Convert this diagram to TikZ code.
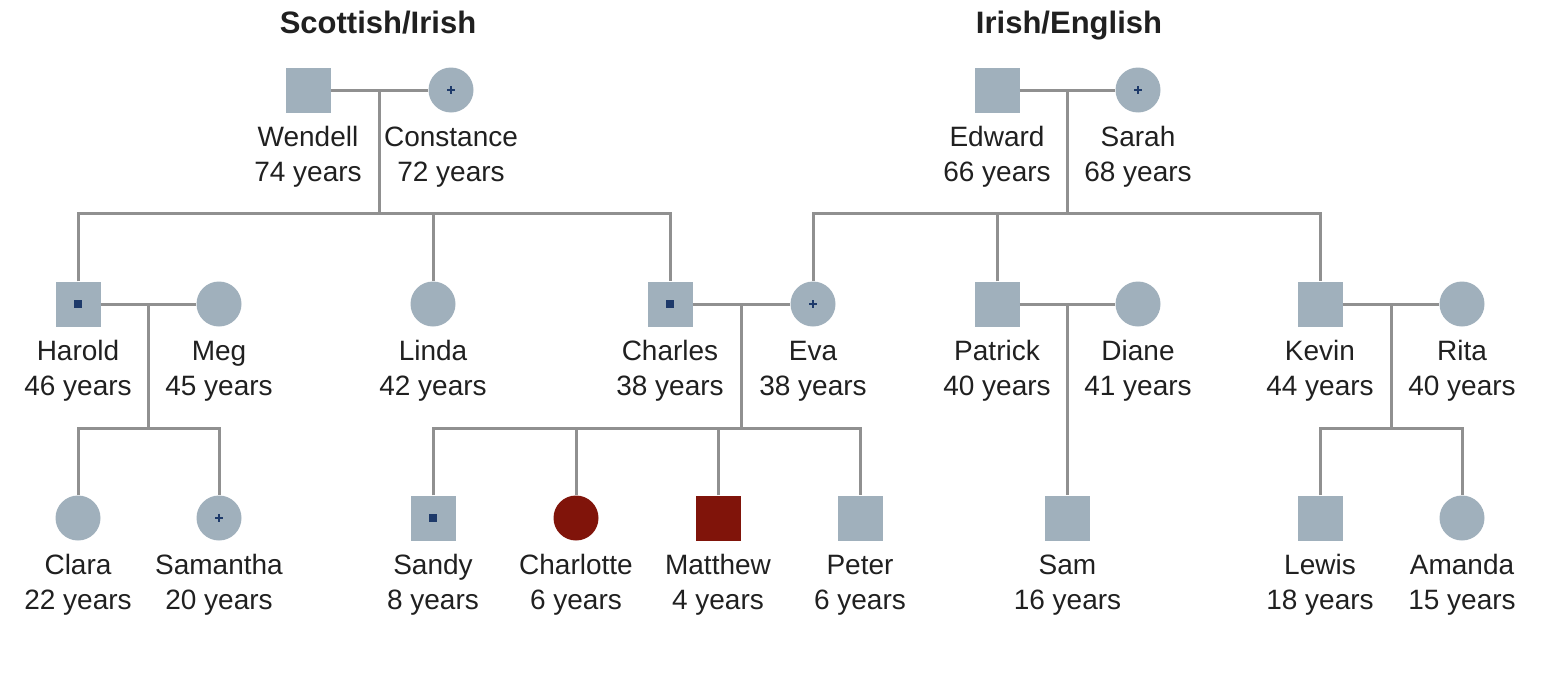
\documentclass[tikz,border=0pt]{standalone}
\usepackage{fontspec}
\setmainfont{Liberation Sans}
\usetikzlibrary{positioning}
\definecolor{pedgray}{RGB}{160,176,188}
\definecolor{pedline}{RGB}{144,144,144}
\definecolor{pedred}{RGB}{128,20,10}
\definecolor{pednavy}{RGB}{30,58,106}
\definecolor{pedtext}{RGB}{32,32,32}
\tikzset{
  male/.style={rectangle,fill=pedgray,minimum size=45pt,inner sep=0pt},
  female/.style={circle,fill=pedgray,minimum size=45pt,inner sep=0pt},
  affected/.style={fill=pedred},
  dotmark/.style={rectangle,fill=pednavy,minimum size=8pt,inner sep=0pt},
  plusmark/.pic={\draw[pednavy,line width=2pt] (-4,0) -- (4,0) (0,-4) -- (0,4);},
  lbl/.style={align=center,inner sep=0pt,text=pedtext,font=\fontsize{28}{35}\selectfont},
  famtitle/.style={anchor=base,inner sep=0pt,text=pedtext,font=\bfseries\fontsize{31}{31}\selectfont},
  link/.style={draw=pedline,line width=3pt}
}
\begin{document}
\begin{tikzpicture}[x=1pt,y=-1pt]
\useasboundingbox (0,0) rectangle (1544,680);
\node[famtitle] (scot) at (378,33) {Scottish/Irish};
\node[famtitle] (iren) at (1069,33) {Irish/English};
% people
\foreach \n/\x/\y in {Wendell/308/90, Edward/997/90,
	Harold/78/304, Charles/670/304, Patrick/997/304, Kevin/1320/304,
	Sandy/433/518, Peter/860/518, Sam/1067.5/518, Lewis/1320/518} {
	\node[male] (\n) at (\x,\y) {};
}
\foreach \n/\x/\y in {Constance/451/90, Sarah/1138/90,
	Meg/219/304, Linda/433/304, Eva/813/304, Diane/1138/304, Rita/1462/304,
	Clara/78/518, Samantha/219/518, Amanda/1462/518} {
	\node[female] (\n) at (\x,\y) {};
}
\node[female,affected] (Charlotte) at (576,518) {};
\node[male,affected] (Matthew) at (718,518) {};
% carriers
\foreach \n in {Harold, Charles, Sandy} {
	\node[dotmark] (\n-dot) at (\n) {};
}
\foreach \n in {Constance, Sarah, Eva, Samantha} {
	\pic at (\n) {plusmark};
}
% names and ages
\foreach \n/\a in {Wendell/74, Constance/72, Edward/66, Sarah/68,
	Harold/46, Meg/45, Linda/42, Charles/38, Eva/38, Patrick/40, Diane/41,
	Kevin/44, Rita/40, Clara/22, Samantha/20, Sandy/8, Charlotte/6,
	Matthew/4, Peter/6, Sam/16, Lewis/18, Amanda/15} {
	\node[lbl,below=13pt of \n] (\n-lbl) {\rule{0pt}{21pt}\n\\\a\ years};
}
% marriages and children
\draw[link] (Wendell) -- (Constance) coordinate[midway] (WC);
\draw[link] (WC) -- ++(0,123) coordinate (WCs);
\draw[link] (Harold) |- (WCs) -| (Charles);
\draw[link] (Linda) -- (Linda |- WCs);
\draw[link] (Edward) -- (Sarah) coordinate[midway] (ES);
\draw[link] (ES) -- ++(0,123) coordinate (ESs);
\draw[link] (Eva) |- (ESs) -| (Kevin);
\draw[link] (Patrick) -- (Patrick |- ESs);
\draw[link] (Harold) -- (Meg) coordinate[midway] (HM);
\draw[link] (HM) -- ++(0,124) coordinate (HMs);
\draw[link] (Clara) |- (HMs) -| (Samantha);
\draw[link] (Charles) -- (Eva) coordinate[midway] (CE);
\draw[link] (CE) -- ++(0,124) coordinate (CEs);
\draw[link] (Sandy) |- (CEs) -| (Peter);
\draw[link] (Charlotte) -- (Charlotte |- CEs);
\draw[link] (Matthew) -- (Matthew |- CEs);
\draw[link] (Patrick) -- (Diane) coordinate[midway] (PD);
\draw[link] (PD) -- (Sam);
\draw[link] (Kevin) -- (Rita) coordinate[midway] (KR);
\draw[link] (KR) -- ++(0,124) coordinate (KRs);
\draw[link] (Lewis) |- (KRs) -| (Amanda);
\end{tikzpicture}
\end{document}
